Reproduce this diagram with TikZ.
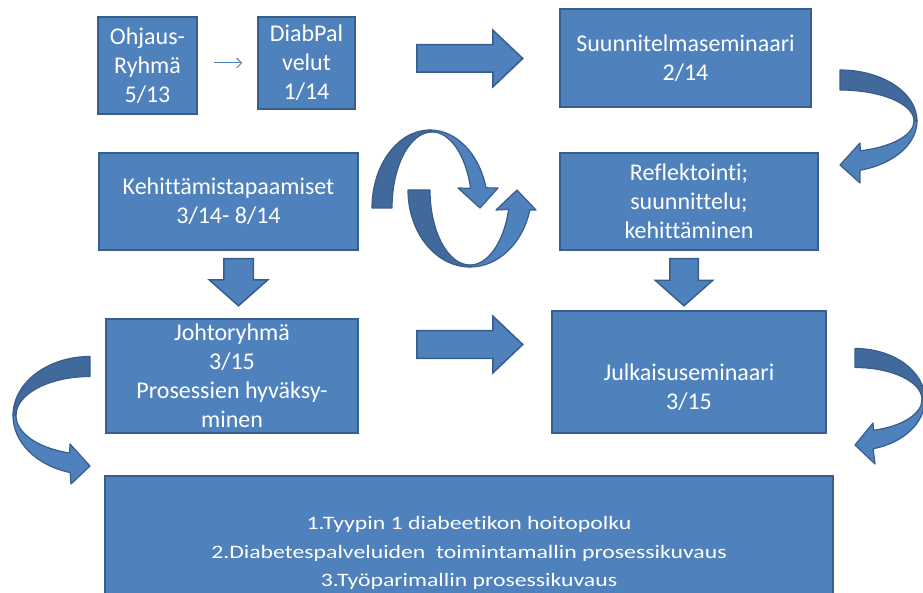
\documentclass[tikz,border=0pt]{standalone}
\usepackage{fontspec}
\setmainfont[Ligatures=NoCommon]{Carlito}
\newfontfamily\widefont[FakeStretch=1.25, Ligatures=NoCommon]{Carlito}
\usetikzlibrary{shapes.arrows, arrows.meta}
\definecolor{boxblue}{HTML}{4F81BD}
\definecolor{boxline}{HTML}{385D8A}
\definecolor{backblue}{HTML}{41699B}
\tikzset{
box/.style={draw=boxline, fill=boxblue, line width=1.5pt, text=white, align=center, inner sep=0pt, font=\fontsize{24}{29}\selectfont}, % the blue boxes
boxtext/.style={text=white, align=center, font=\fontsize{24}{29}\selectfont}, % text put on a box
blockarrow/.style={single arrow, anchor=tail, draw=boxline, fill=boxblue, line width=1.5pt, inner xsep=0pt, inner ysep=13pt, minimum height=106pt, single arrow head extend=14.5pt, single arrow tip angle=87}, % thick right arrows
downarrow/.style={blockarrow, rotate=-90, inner ysep=14pt, minimum height=47pt, single arrow tip angle=97}, % thick down arrows
curl/.style={draw=boxline, fill=boxblue, line width=1.2pt, line join=round}, % front of a curved arrow
curlback/.style={curl, fill=backblue}, % back of a curved arrow
}

\begin{document}
\begin{tikzpicture}[x=1pt, y=1pt, yscale=-1]
  \useasboundingbox (0,0) rectangle (923,593);
  \clip (0,0) rectangle (923,593);

  % Boxes
  \node[box, minimum width=99pt, minimum height=97pt] (ohj) at (147.5,65.5) {Ohjaus-\\Ryhmä\\5/13};
  \node[box, minimum width=97pt, minimum height=92pt] (diab) at (306.5,63) {DiabPal\\velut\\1/14};
  \node[box, minimum width=251pt, minimum height=98pt] (suun) at (685.5,58) {Suunnitelmaseminaari\\2/14};
  \node[box, minimum width=259pt, minimum height=97pt] (keh) at (228.5,201.5) {Kehittämistapaamiset\\3/14- 8/14};
  \node[box, minimum width=258pt, minimum height=97pt] (refl) at (689,201.5) {Reflektointi;\\suunnittelu;\\kehittäminen};
  \node[box, minimum width=252pt, minimum height=114pt] (joht) at (232,376) {Johtoryhmä\\3/15\\Prosessien hyväksy-\\minen};
  \node[box, minimum width=274pt, minimum height=122pt] (julk) at (689,372) {};
  \node[boxtext] at (689,387) {Julkaisuseminaari\\3/15};
  \node[box, minimum width=728pt, minimum height=154pt, font=\widefont\fontsize{19}{28.5}\selectfont] (tulos) at (469,553)
    {1.Tyypin 1 diabeetikon hoitopolku\\2.Diabetespalveluiden~ toimintamallin prosessikuvaus\\3.Työparimallin prosessikuvaus};

  % Straight arrows
  \draw[-{Straight Barb[length=5pt, width=10pt]}, boxblue, line width=1pt, shorten <=16pt, shorten >=15pt] (diab.west -| ohj.east) -- (diab.west);
  \node[blockarrow] (a1) at (416,58.5) {};
  \node[blockarrow] (a2) at (416,344.5) {};
  \node[downarrow] (a3) at (238.5,258) {};
  \node[downarrow, inner ysep=13.5pt] (a4) at (684,258) {};

  % Curved arrows on the right
  \filldraw[curlback] (840,70) arc[start angle=-90, end angle=0, x radius=77, y radius=51]
    -- (914,121) arc[start angle=0, end angle=-90, x radius=74, y radius=31] -- cycle;
  \filldraw[curl] (917,121) arc[start angle=0, end angle=75, x radius=77, y radius=51]
    -- (860,183) -- (840,165) -- (860,143) -- (860.4,150.8)
    arc[start angle=74, end angle=0, x radius=74, y radius=31] -- cycle;
  \filldraw[curlback] (855,348.5) arc[start angle=-90, end angle=0, x radius=70, y radius=51]
    -- (922,399.5) arc[start angle=0, end angle=-90, x radius=67, y radius=32] -- cycle;
  \filldraw[curl] (925,399.5) arc[start angle=0, end angle=75, x radius=70, y radius=51]
    -- (875,464) -- (855,445) -- (873,423) -- (873.5,430.3)
    arc[start angle=74, end angle=0, x radius=67, y radius=32] -- cycle;

  % Curved arrow on the left
  \filldraw[curlback] (90,356.5) arc[start angle=-90, end angle=-180, x radius=77, y radius=59]
    -- (16,415.5) arc[start angle=180, end angle=270, x radius=74, y radius=39] -- cycle;
  \filldraw[curl] (13,415.5) arc[start angle=180, end angle=105, x radius=77, y radius=59]
    -- (71,484) -- (90,466) -- (70,444) -- (69.6,453)
    arc[start angle=106, end angle=180, x radius=74, y radius=39] -- cycle;

  % Circle of two arrows
  \filldraw[curlback] (372,208) arc[start angle=180, end angle=270, x radius=58, y radius=78]
    -- (432,132) arc[start angle=270, end angle=180, x radius=40, y radius=76] -- cycle;
  \filldraw[curl] (430,130) arc[start angle=270, end angle=345, x radius=58, y radius=78]
    -- (498,188) -- (480,208) -- (458,188) -- (470.6,188.3)
    arc[start angle=345, end angle=270, x radius=40, y radius=76] -- cycle;
  \filldraw[curlback] (408,190) arc[start angle=180, end angle=90, x radius=62, y radius=77]
    -- (470,265) arc[start angle=90, end angle=180, x radius=40, y radius=75] -- cycle;
  \filldraw[curl] (470,267) arc[start angle=90, end angle=15, x radius=62, y radius=77]
    -- (536,210) -- (517,190) -- (496,210) -- (508.6,209.4)
    arc[start angle=15, end angle=90, x radius=40, y radius=75] -- cycle;
\end{tikzpicture}
\end{document}
